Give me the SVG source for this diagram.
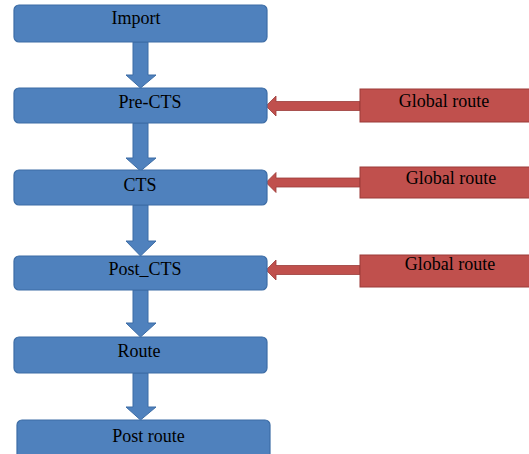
<svg xmlns="http://www.w3.org/2000/svg" width="529" height="454" viewBox="0 0 529 454">
<style>
.blue{fill:#4f81bd;stroke:#3d6da6;stroke-width:1.2}
.red{fill:#c0504d;stroke:#9b3b38;stroke-width:1}
.ba{fill:#4f81bd;stroke:#3d6da6;stroke-width:1}
.ra{fill:#c0504d;stroke:#9b3b38;stroke-width:0.8}
text{font-family:"Liberation Serif","Times New Roman",serif;font-size:18px;fill:#000;text-anchor:middle}
</style>
<rect width="529" height="454" fill="#fff"/>
<g id="connectors">
<polygon class="ba" points="133,42 148,42 148,75 156,75 140.5,88 126,75 133,75"/>
<polygon class="ba" points="133,123 148,123 148,158 156,158 140.5,171 126,158 133,158"/>
<polygon class="ba" points="133,205 148,205 148,241 156,241 140.5,256 126,241 133,241"/>
<polygon class="ba" points="133,290 148,290 148,323 156,323 140.5,337 126,323 133,323"/>
<polygon class="ba" points="133,373 148,373 148,407 156,407 140.5,420 126,407 133,407"/>
<polygon class="ra" points="360,101.5 276,101.5 276,96 266,106 276,116 276,110.5 360,110.5"/>
<polygon class="ra" points="360,178 276,178 276,172.5 266,182.5 276,192.5 276,187 360,187"/>
<polygon class="ra" points="360,265.5 276,265.5 276,260 266,270 276,280 276,274.5 360,274.5"/>
</g>
<g id="import"><rect class="blue" x="14" y="5" width="253" height="37" rx="5"/><text x="136" y="24">Import</text></g>
<g id="pre-cts"><rect class="blue" x="14" y="88" width="253" height="35" rx="5"/><text x="150" y="108">Pre-CTS</text></g>
<g id="cts"><rect class="blue" x="14" y="170" width="253" height="35" rx="5"/><text x="140" y="191">CTS</text></g>
<g id="post-cts"><rect class="blue" x="14" y="256" width="253" height="34" rx="5"/><text x="145" y="275">Post_CTS</text></g>
<g id="route"><rect class="blue" x="14" y="337" width="253" height="36" rx="5"/><text x="139" y="357">Route</text></g>
<g id="post-route"><rect class="blue" x="17" y="420" width="253" height="40" rx="5"/><text x="148.5" y="442">Post route</text></g>
<g id="global-route-1"><rect class="red" x="360" y="89" width="172" height="33"/><text x="444" y="107">Global route</text></g>
<g id="global-route-2"><rect class="red" x="360" y="167" width="172" height="31"/><text x="451" y="184">Global route</text></g>
<g id="global-route-3"><rect class="red" x="360" y="255" width="172" height="32"/><text x="450" y="270">Global route</text></g>
</svg>
